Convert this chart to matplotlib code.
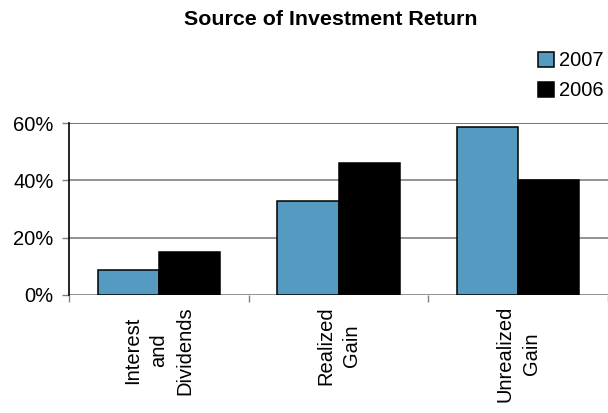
import matplotlib
matplotlib.use("Agg")
import matplotlib.pyplot as plt
import numpy as np
from matplotlib.patches import Patch

plt.rcParams['font.family'] = ['Liberation Sans', 'DejaVu Sans']

# Datos
categorias = ['Interest\nand\nDividends', 'Realized\nGain', 'Unrealized\nGain']
valores_2007 = [8.7, 33.0, 58.6]
valores_2006 = [14.9, 46.0, 40.0]
series = ['2007', '2006']
colores = ['#559AC0', '#000000']

fig = plt.figure(figsize=(6.08, 4.13), dpi=100)
ax = fig.add_axes([0.1135, 0.286, 0.8865, 0.4155])

x = np.arange(len(categorias))
ancho = 0.34
ax.bar(x - ancho / 2, valores_2007, ancho, color=colores[0], edgecolor='black', linewidth=1.1, zorder=3)
ax.bar(x + ancho / 2, valores_2006, ancho, color=colores[1], edgecolor='black', linewidth=1.1, zorder=3)

ax.set_xlim(-0.5, len(categorias) - 0.5)
ax.set_ylim(0, 60)
ax.set_yticks([0, 20, 40, 60])
ax.set_yticklabels(['0%', '20%', '40%', '60%'], fontsize=14.5)
ax.yaxis.grid(True, color='#808080', linewidth=1.2, zorder=0)
ax.tick_params(axis='y', length=5, width=1, color='#808080', pad=6)

# Etiquetas de categoría y marcas entre grupos
ax.set_xticks(x)
etiquetas = ax.set_xticklabels(categorias, rotation=90, fontsize=14.5, ha='center', va='top',
                               multialignment='center')
for t in etiquetas:
    t.set_linespacing(1.45)
ax.tick_params(axis='x', which='major', length=0, pad=8)
ax.set_xticks([-0.5, 0.5, 1.5, 2.5], minor=True)
ax.tick_params(axis='x', which='minor', length=5, width=1, color='#808080')

for lado in ['top', 'right', 'bottom']:
    ax.spines[lado].set_visible(False)
ax.spines['left'].set_color('black')
ax.spines['left'].set_linewidth(1.2)
ax.axhline(60, color='#333333', linewidth=1.2, zorder=1)

fig.suptitle('Source of Investment Return', fontsize=15.4, fontweight='bold',
             x=0.544, y=0.975, va='top')

handles = [Patch(facecolor=c, edgecolor='black', linewidth=1.1) for c in colores]
fig.legend(handles, series, loc='upper right', bbox_to_anchor=(1.012, 0.905),
           frameon=False, fontsize=14.5, handlelength=0.75, handleheight=0.75,
           handletextpad=0.25, labelspacing=0.55, borderpad=0.1)

fig.savefig('out.png', dpi=100)
